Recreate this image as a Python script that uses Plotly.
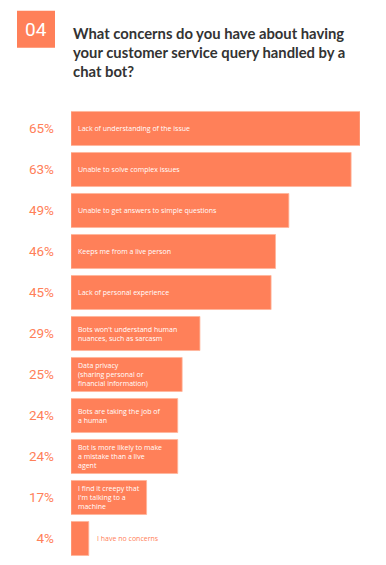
import plotly.graph_objects as go

labels = [
    "Lack of understanding of the issue",
    "Unable to solve complex issues",
    "Unable to get answers to simple questions",
    "Keeps me from a live person",
    "Lack of personal experience",
    "Bots won't understand human<br>nuances, such as sarcasm",
    "Data privacy<br>(sharing personal or<br>financial information)",
    "Bots are taking the job of<br>a human",
    "Bot is more likely to make<br>a mistake than a live<br>agent",
    "I find it creepy that<br>I'm talking to a<br>machine",
    "I have no concerns",
]
values = [65, 63, 49, 46, 45, 29, 25, 24, 24, 17, 4]
pct_labels = [f"{v}%" for v in values]
title_text = "What concerns do you have about having<br>your customer service query handled by a<br>chat bot?"
badge_text = "04"

ORANGE = "#FF8059"
idx = list(range(len(values)))

fig = go.Figure(go.Bar(
    x=values, y=idx, orientation="h",
    marker=dict(color=ORANGE, line=dict(color="#FFB59A", width=0.8)),
    width=0.83, hoverinfo="skip",
))

OFF = 8  # page body margin offset
W, H = 386 - OFF, 565 - OFF
L, R, T, B = 71 - OFF, 26, 107.5 - OFF, 5.5
pw, ph = W - L - R, H - T - B

def px_x(p):
    return (p - OFF - L) / pw

def px_y(p):
    return (H - B - (p - OFF)) / ph

annotations = []
for i, (lab, v) in enumerate(zip(labels, values)):
    inside = v >= 10
    annotations.append(dict(
        x=0 if inside else v, y=i, xref="x", yref="y",
        text=lab, showarrow=False, xanchor="left", yanchor="middle",
        align="left", xshift=5 if inside else 6,
        font=dict(family="Open Sans, Lato, sans-serif", size=7,
                  color="white" if inside else ORANGE),
    ))

annotations.append(dict(
    x=0, y=px_y(21), xref="paper", yref="paper", text=title_text,
    showarrow=False, xanchor="left", yanchor="top", align="left",
    font=dict(family="Lato, sans-serif", size=14.8, color="#333333", weight="bold"),
))
annotations.append(dict(
    x=px_x(36), y=px_y(29), xref="paper", yref="paper", text=badge_text,
    showarrow=False, xanchor="center", yanchor="middle",
    font=dict(family="Roboto, sans-serif", size=19, color="white"),
))

fig.add_shape(type="rect", xref="paper", yref="paper",
              x0=px_x(17), x1=px_x(55), y0=px_y(47), y1=px_y(10),
              fillcolor=ORANGE, line=dict(width=0), layer="above")

fig.update_layout(
    width=W, height=H,
    margin=dict(l=L, r=R, t=T, b=B, pad=0),
    paper_bgcolor="white", plot_bgcolor="white",
    showlegend=False,
    annotations=annotations,
    xaxis=dict(range=[0, 65], visible=False, fixedrange=True),
    yaxis=dict(range=[len(values) - 0.5, -0.5], tickmode="array",
               tickvals=idx, ticktext=pct_labels, showgrid=False,
               zeroline=False, showline=False, ticks="",
               ticklabelstandoff=16,
               tickfont=dict(family="Roboto, sans-serif", size=13.5, color=ORANGE)),
)

fig.write_html("out.html")
